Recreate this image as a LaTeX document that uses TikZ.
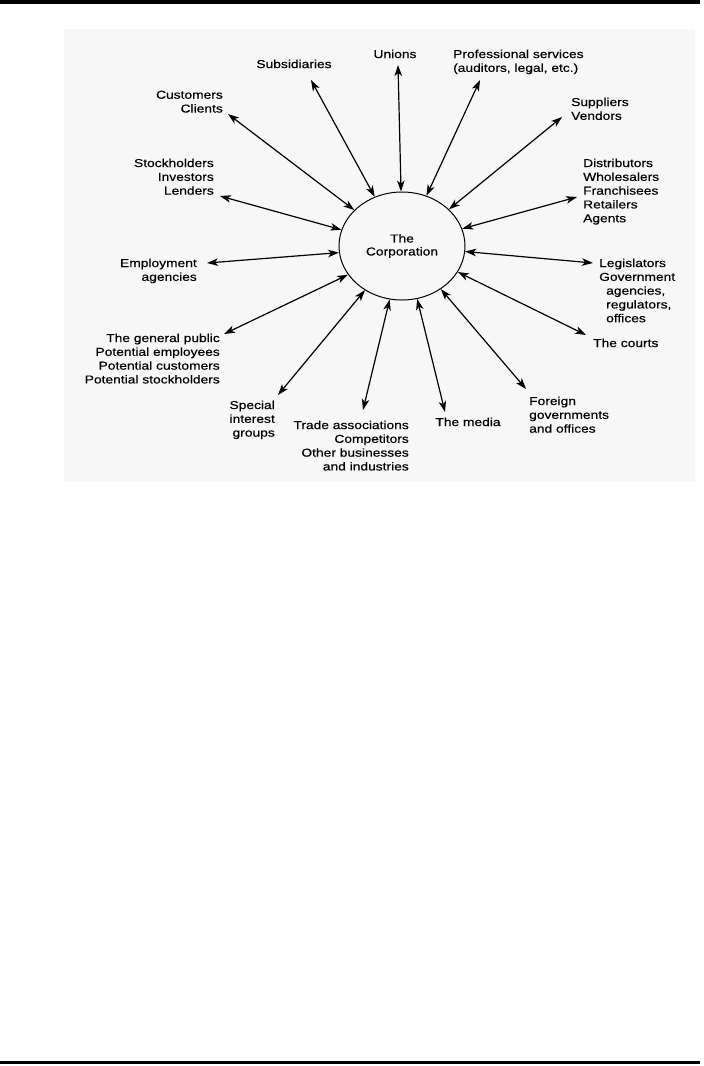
\documentclass[tikz,border=0pt]{standalone}
\usepackage{fontspec}
\setmainfont{Liberation Sans}[FakeStretch=1.2,FakeBold=0.4]
\usetikzlibrary{arrows.meta,shapes.geometric}

\tikzset{
  party/.style={inner sep=0pt, font=\fontsize{11.5}{13.8}\selectfont},
  link/.style={<->, >={Stealth[length=11pt,width=7.5pt,inset=3pt]}, line width=1.2pt},
}

\begin{document}
\begin{tikzpicture}[x=1pt,y=-1pt]
    \useasboundingbox (0,0) rectangle (704,1066);
    % Page rules
    \fill (0,0) rectangle (700,3.5);
    \fill (0,1061) rectangle (700,1064);
    % Background
    \fill[black!3] (64,29) rectangle (695,482);

    % The corporation
    \node[party, ellipse, draw, line width=1pt, minimum width=126pt, minimum height=108pt,
          align=center, font=\fontsize{11.5}{13}\selectfont] (corp) at (402,246) {The\\Corporation};

    % Stakeholders
    \node[party, anchor=north] (sub) at (294,59.5) {Subsidiaries};
    \node[party, anchor=north east, align=right] (cust) at (223,90.5) {Customers\\Clients};
    \node[party, anchor=north east, align=right] (stock) at (214,158.5) {Stockholders\\Investors\\Lenders};
    \node[party, anchor=north east, align=right] (empl) at (197,258.5) {Employment\\agencies};
    \node[party, anchor=north east, align=right] (pub) at (220,333.5)
        {The general public\\Potential employees\\Potential customers\\Potential stockholders};
    \node[party, anchor=north east, align=right] (spec) at (275,400.5) {Special\\interest\\groups};
    \node[party, anchor=north east, align=right] (trade) at (409,420.5)
        {Trade associations\\Competitors\\Other businesses\\and industries};
    \node[party, anchor=north] (media) at (468,417.5) {The media};
    \node[party, anchor=north west, align=left] (forgn) at (529,396.5) {Foreign\\governments\\and offices};
    \node[party, anchor=north west] (courts) at (593,338.5) {The courts};
    \node[party, anchor=north west, align=left] (legis) at (599,258.5)
        {Legislators\\Government\\\hspace*{7pt}agencies,\\\hspace*{7pt}regulators,\\\hspace*{7pt}offices};
    \node[party, anchor=north west, align=left] (dist) at (583,158.5)
        {Distributors\\Wholesalers\\Franchisees\\Retailers\\Agents};
    \node[party, anchor=north west, align=left] (supp) at (571,97.5) {Suppliers\\Vendors};
    \node[party, anchor=north west, align=left] (prof) at (453,49.5)
        {Professional services\\(auditors, legal, etc.)};
    \node[party, anchor=north] (unions) at (395,49.5) {Unions};

    % Outer arrow ends
    \coordinate (sub-e) at (311,80);
    \coordinate (cust-e) at (228,114);
    \coordinate (stock-e) at (220,196);
    \coordinate (empl-e) at (207,263);
    \coordinate (pub-e) at (224,334);
    \coordinate (spec-e) at (278,395);
    \coordinate (trade-e) at (363,410);
    \coordinate (media-e) at (445,412);
    \coordinate (forgn-e) at (526,389);
    \coordinate (courts-e) at (586,335);
    \coordinate (legis-e) at (593,263);
    \coordinate (dist-e) at (577,197);
    \coordinate (supp-e) at (562,117);
    \coordinate (prof-e) at (480,80);
    \coordinate (unions-e) at (398,65);

    % Links
    \draw[link] (corp.119) -- (sub-e);
    \draw[link] (corp.143) -- (cust-e);
    \draw[link] (corp.165) -- (stock-e);
    \draw[link] (corp.186) -- (empl-e);
    \draw[link] (corp.208) -- (pub-e);
    \draw[link] (corp.230) -- (spec-e);
    \draw[link] (corp.257) -- (trade-e);
    \draw[link] (corp.286) -- (media-e);
    \draw[link] (corp.312) -- (forgn-e);
    \draw[link] (corp.335) -- (courts-e);
    \draw[link] (corp.355) -- (legis-e);
    \draw[link] (corp.16) -- (dist-e);
    \draw[link] (corp.38) -- (supp-e);
    \draw[link] (corp.64) -- (prof-e);
    \draw[link] (corp.91) -- (unions-e);
\end{tikzpicture}
\end{document}
